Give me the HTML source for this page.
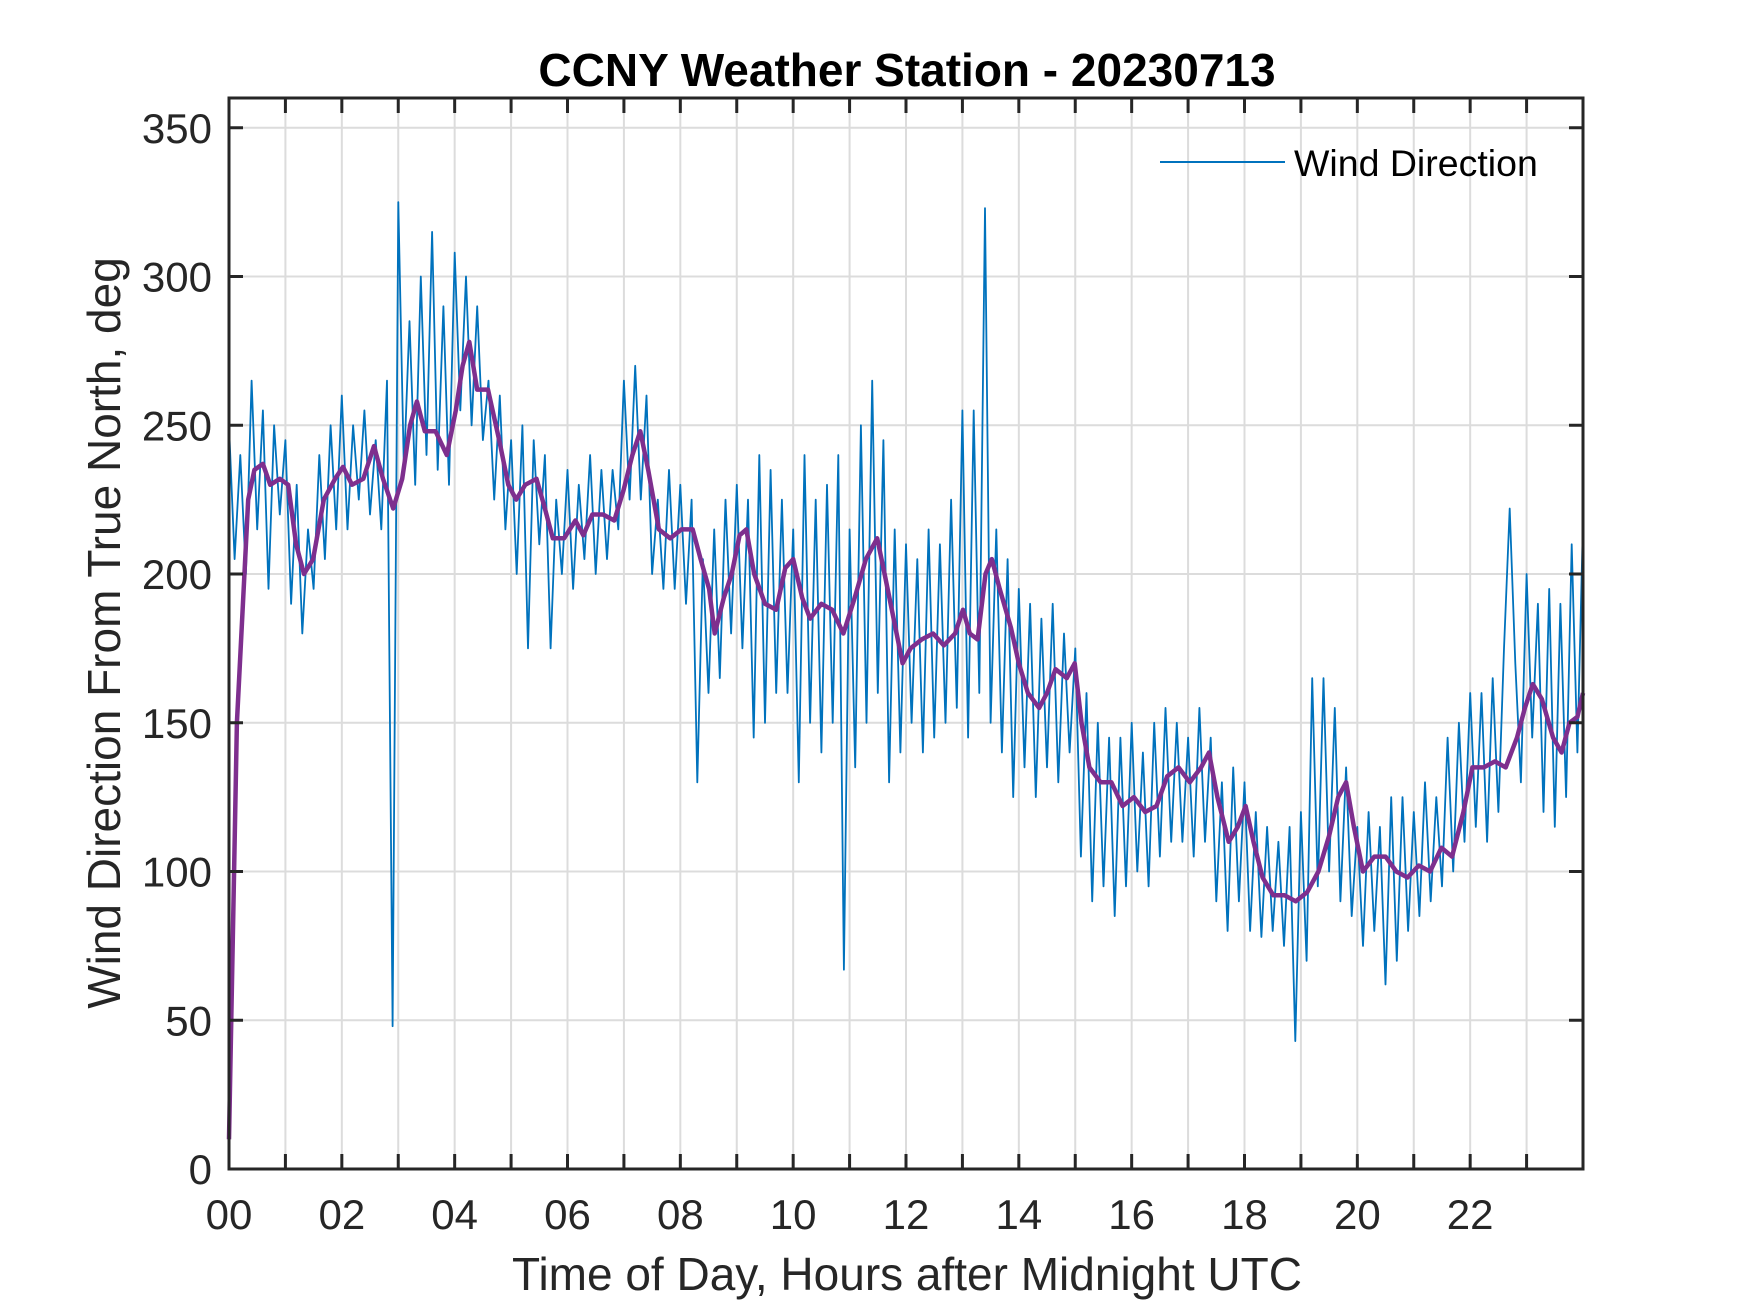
<!DOCTYPE html>
<html><head><meta charset="utf-8"><style>
html,body{margin:0;padding:0;background:#fff;}
svg{display:block;font-family:"Liberation Sans",Arial,sans-serif;}
</style></head><body>
<svg id="chart" width="1750" height="1313" viewBox="0 0 1750 1313" xmlns="http://www.w3.org/2000/svg">
<rect width="1750" height="1313" fill="#fff"/>
<g id="grid"></g>
<g id="series"></g>
<g id="axes"></g>
<text x="907" y="86" text-anchor="middle" font-size="46" font-weight="bold" fill="#000">CCNY Weather Station - 20230713</text>
<text x="907" y="1290" text-anchor="middle" font-size="46" fill="#262626">Time of Day, Hours after Midnight UTC</text>
<text transform="translate(120,633) rotate(-90)" text-anchor="middle" font-size="46" fill="#262626">Wind Direction From True North, deg</text>
<g>
<line x1="1160" y1="162" x2="1285" y2="162" stroke="#0072BD" stroke-width="2"/>
<text x="1294" y="176" font-size="37.5" fill="#000">Wind Direction</text>
</g>
</svg>
<script>
const xTicks=[0,2,4,6,8,10,12,14,16,18,20,22];
const xTickLabels=["00","02","04","06","08","10","12","14","16","18","20","22"];
const yTicks=[0,50,100,150,200,250,300,350];
const blueStep=0.1;
const windDirection=[
250,205,240,200,265,215,255,195,250,220,
245,190,230,180,215,195,240,205,250,215,
260,215,250,225,255,220,245,215,265,48,
325,235,285,230,300,240,315,235,290,230,
308,255,300,250,290,245,265,225,260,215,
245,200,250,175,245,210,240,175,225,200,
235,195,230,205,240,200,235,205,235,215,
265,225,270,225,260,200,225,195,235,195,
230,190,225,130,205,160,215,165,225,180,
230,175,225,145,240,150,235,160,225,160,
215,130,240,150,225,140,230,150,240,67,
215,135,250,150,265,160,245,130,215,140,
210,150,205,140,215,145,210,150,225,155,
255,145,255,160,323,150,215,140,205,125,
195,135,190,125,185,135,190,130,180,140,
175,105,160,90,150,95,145,85,145,95,
150,100,140,95,150,105,155,110,150,110,
145,105,155,110,145,90,130,80,135,90,
130,80,120,78,115,80,110,75,115,43,
120,70,165,95,165,100,155,90,135,85,
115,75,120,80,115,62,125,70,125,80,
120,85,130,90,125,95,145,100,150,110,
160,115,160,110,165,120,175,222,170,130,
200,145,190,120,195,115,190,125,210,140,
218];
const smoothTimes=[0,0.14,0.34,0.45,0.6,0.73,0.9,1.05,1.19,1.33,1.49,1.68,1.88,2.02,2.18,2.38,2.57,2.73,2.91,3.07,3.21,3.33,3.47,3.66,3.86,4.02,4.14,4.26,4.4,4.59,4.79,4.95,5.09,5.25,5.45,5.6,5.74,5.94,6.14,6.28,6.44,6.63,6.83,6.99,7.15,7.29,7.43,7.62,7.82,8.02,8.22,8.36,8.51,8.61,8.77,8.91,9.05,9.17,9.31,9.5,9.7,9.86,10.0,10.16,10.3,10.5,10.69,10.89,11.09,11.29,11.49,11.62,11.78,11.94,12.08,12.28,12.48,12.67,12.87,13.01,13.13,13.27,13.41,13.52,13.66,13.86,14.0,14.16,14.36,14.5,14.65,14.85,14.99,15.11,15.25,15.45,15.64,15.84,16.04,16.24,16.44,16.63,16.83,17.03,17.23,17.37,17.52,17.72,17.88,18.02,18.16,18.32,18.51,18.71,18.91,19.11,19.31,19.5,19.66,19.8,19.94,20.1,20.3,20.5,20.69,20.89,21.09,21.29,21.49,21.68,21.88,22.04,22.24,22.44,22.63,22.83,22.97,23.11,23.27,23.47,23.62,23.76,23.9,24.0];
const smoothValues=[10,150,225,235,237,230,232,230,210,200,205,225,232,236,230,232,243,232,222,232,250,258,248,248,240,255,270,278,262,262,245,230,225,230,232,222,212,212,218,213,220,220,218,228,240,248,235,215,212,215,215,205,195,180,192,200,213,215,200,190,188,202,205,192,185,190,188,180,192,205,212,200,185,170,175,178,180,176,180,188,180,178,200,205,195,182,170,160,155,160,168,165,170,150,135,130,130,122,125,120,122,132,135,130,135,140,125,110,115,122,110,98,92,92,90,93,100,112,125,130,115,100,105,105,100,98,102,100,108,105,120,135,135,137,135,145,155,163,158,145,140,150,152,160];

const L=229,R=1583,T=98,B=1169,XMIN=0,XMAX=24,YMIN=0,YMAX=360;
function xs(v){return L+(v-XMIN)/(XMAX-XMIN)*(R-L);}
function ys(v){return B-(v-YMIN)/(YMAX-YMIN)*(B-T);}
const NS="http://www.w3.org/2000/svg";
function mk(tag,attrs,parent){const e=document.createElementNS(NS,tag);for(const k in attrs)e.setAttribute(k,attrs[k]);parent.appendChild(e);return e;}
const grid=document.getElementById('grid'),axes=document.getElementById('axes'),series=document.getElementById('series');
for(let h=1;h<24;h++){
  const g=mk('line',{x1:xs(h),x2:xs(h),y1:T,y2:B,stroke:'#dcdcdc','stroke-width':2},grid);
  
  
  for(const [y1,y2] of [[B,B-15],[T,T+15]]){
    const t=mk('line',{x1:xs(h),x2:xs(h),y1:y1,y2:y2,stroke:'#262626','stroke-width':3},axes);
    
    
  }
}
yTicks.forEach(v=>{
  if(v>0){const g=mk('line',{x1:L,x2:R,y1:ys(v),y2:ys(v),stroke:'#dcdcdc','stroke-width':2},grid);
  
  }
  for(const [x1,x2] of [[L,L+14],[R,R-14]]){
    const t=mk('line',{x1:x1,x2:x2,y1:ys(v),y2:ys(v),stroke:'#262626','stroke-width':3},axes);
    
    
  }
  const lb=mk('text',{x:L-17,y:ys(v)+15,'text-anchor':'end','font-size':42,fill:'#262626'},axes);
  lb.textContent=v;
  
  
});
xTicks.forEach((v,i)=>{
  const lb=mk('text',{x:xs(v),y:B+60,'text-anchor':'middle','font-size':42,fill:'#262626'},axes);
  lb.textContent=xTickLabels[i];
  
  
});
const box=mk('rect',{x:L,y:T,width:R-L,height:B-T,fill:'none',stroke:'#262626','stroke-width':3},axes);


const bp=windDirection.map((v,i)=>xs(i*blueStep).toFixed(1)+','+ys(v).toFixed(1)).join(' ');
const bl=mk('polyline',{points:bp,fill:'none',stroke:'#0072BD','stroke-width':1.8,'stroke-linejoin':'round'},series);


const sp=smoothValues.map((v,i)=>xs(smoothTimes[i]).toFixed(1)+','+ys(v).toFixed(1)).join(' ');
const sl=mk('polyline',{points:sp,fill:'none',stroke:'#7E2F8E','stroke-width':4.5,'stroke-linejoin':'round'},series);


</script>
</body></html>
